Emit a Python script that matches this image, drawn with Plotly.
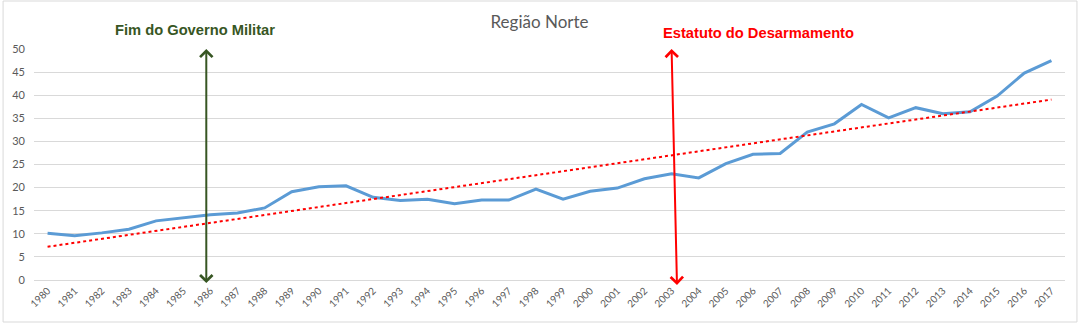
import numpy as np
import plotly.graph_objects as go

years = [str(y) for y in range(1980, 2018)]
taxa = [10.1, 9.6, 10.2, 11.0, 12.8, 13.4, 14.1, 14.5, 15.6, 19.1, 20.2, 20.4,
        17.9, 17.2, 17.5, 16.5, 17.3, 17.3, 19.7, 17.5, 19.2, 19.9, 21.9, 23.0,
        22.1, 25.2, 27.2, 27.4, 32.0, 33.8, 38.0, 35.1, 37.3, 36.0, 36.4, 39.8,
        44.8, 47.5]
y_ticks = list(range(0, 55, 5))

idx = np.arange(len(years))
coef = np.polyfit(idx, taxa, 1)
trend = np.polyval(coef, idx)

fig = go.Figure()
fig.add_trace(go.Scatter(x=years, y=taxa, mode="lines",
                         line=dict(color="#5B9BD5", width=3), showlegend=False))
fig.add_trace(go.Scatter(x=years, y=trend, mode="lines",
                         line=dict(color="#FF0000", width=2, dash="dot"), showlegend=False))

# Arrows (tip at the top, tail below the axis)
fig.add_annotation(x=5.85, y=50, ax=5.85, ay=-1.0, xref="x", yref="y", axref="x", ayref="y",
                   text="", showarrow=True, arrowhead=4, startarrowhead=4, arrowside="end+start",
                   arrowwidth=2, arrowcolor="#375623", arrowsize=1.2, startarrowsize=1.2)
fig.add_annotation(x=23.0, y=50, ax=23.2, ay=-1.4, xref="x", yref="y", axref="x", ayref="y",
                   text="", showarrow=True, arrowhead=4, startarrowhead=4, arrowside="end+start",
                   arrowwidth=2, arrowcolor="#FF0000", arrowsize=1.2, startarrowsize=1.2)

fig.add_annotation(x=5.45, y=1 + 19/231, xref="x", yref="paper", text="<b>Fim do Governo Militar</b>",
                   showarrow=False, yanchor="middle",
                   font=dict(family="Liberation Sans", size=14.7, color="#375623"))
fig.add_annotation(x=22.6, y=1 + 16/231, xref="x", yref="paper", text="<b>Estatuto do Desarmamento</b>",
                   showarrow=False, xanchor="left", yanchor="middle",
                   font=dict(family="Liberation Sans", size=14.7, color="#FF0000"))

# chart border
fig.add_shape(type="rect", xref="paper", yref="paper",
              x0=-31/1034, x1=(1077-31)/1034, y0=-(322-280)/231, y1=(280-1)/231,
              line=dict(color="#D9D9D9", width=1), fillcolor="rgba(0,0,0,0)", layer="below")

fig.update_layout(
    width=1079, height=325,
    margin=dict(l=31, r=14, t=49, b=45),
    paper_bgcolor="white", plot_bgcolor="white",
    title=dict(text="Região Norte", x=0.5, xanchor="center", y=1 - 22/325, yanchor="middle",
               font=dict(family="Lato", size=17, color="#595959")),
    font=dict(family="Lato", color="#595959"),
)
fig.update_xaxes(type="category", tickangle=-45, tickfont=dict(size=10, color="#595959"),
                 showgrid=False, showline=True, linecolor="#D9D9D9", ticks="",
                 range=[-0.5, len(years) - 0.5])
fig.update_yaxes(range=[0, 50], tickvals=y_ticks, tickfont=dict(size=11, color="#595959"),
                 showgrid=True, gridcolor="#D9D9D9", zeroline=False, ticks="",
                 ticklabelstandoff=8)

fig.write_html("out.html")
